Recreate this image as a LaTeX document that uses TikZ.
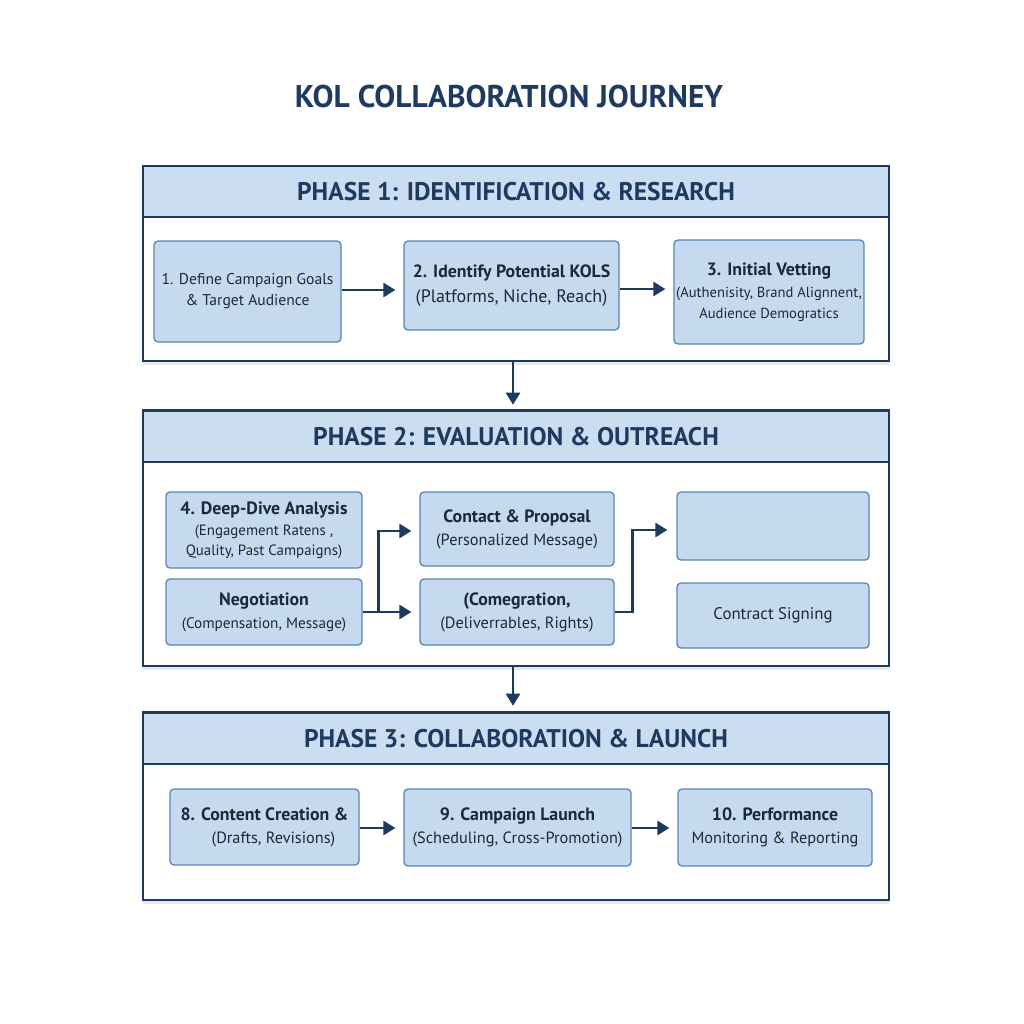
\documentclass[tikz,border=0pt]{standalone}
\usepackage{fontspec}
\setmainfont{PT Sans}
\usetikzlibrary{arrows.meta,shadows}
\definecolor{navy}{HTML}{1E3A5F}
\definecolor{hdrfill}{HTML}{CADDF1}
\definecolor{boxfill}{HTML}{C6DAEF}
\definecolor{boxline}{HTML}{5A85B5}
\definecolor{txt}{HTML}{1B2838}
\tikzset{
  frame/.style={draw=navy, line width=2.6pt, fill=white, minimum width=746pt, drop shadow={opacity=0.18, shadow xshift=0pt, shadow yshift=-4pt}, inner sep=0pt},
  hdr/.style={draw=navy, line width=2.6pt, fill=hdrfill, minimum width=746pt, minimum height=51pt, inner sep=0pt, text=navy, font=\fontsize{25.5}{30}\selectfont\bfseries},
  kbox/.style={draw=boxline, fill=boxfill, line width=1.3pt, rounded corners=4pt, align=center, inner sep=0pt, text=txt, font=\fontsize{16.3}{23}\selectfont},
  flow/.style={draw=navy, line width=2.8pt, -{Triangle[length=12pt,width=14pt]}}
}
\newcommand{\bt}[1]{{\fontsize{17.8}{23}\selectfont\bfseries #1}}
\newcommand{\sz}[2]{{\fontsize{#1}{20}\selectfont #2}}
\begin{document}
\begin{tikzpicture}[x=1pt,y=-1pt]
\useasboundingbox (0,0) rectangle (1024,1024);
\fill[white] (0,0) rectangle (1024,1024);
\node[text=navy, font=\fontsize{31.4}{36}\selectfont\bfseries] (title) at (509,97) {KOL COLLABORATION JOURNEY};

% Phase 1
\node[frame, minimum height=195pt] (p1) at (516,263.5) {};
\node[hdr] (h1) at (516,191.5) {PHASE 1: IDENTIFICATION \& RESEARCH};
\node[kbox, minimum width=187pt, minimum height=101pt, font=\fontsize{15.6}{21}\selectfont] (b1) at (247.5,291.5) {1. Define Campaign Goals\\ \& Target Audience};
\node[kbox, minimum width=215pt, minimum height=89pt, font=\fontsize{18}{25}\selectfont] (b2) at (511.5,285.5) {\bt{2. Identify Potential KOLS}\\(Platforms, Niche, Reach)};
\node[kbox, minimum width=190pt, minimum height=104pt] (b3) at (769,292) {\bt{3. Initial Vetting}\\[-1pt]\sz{14.6}{(Authenisity, Brand Alignnent,}\\[-2pt]\sz{14.6}{Audience Demogratics}};
\draw[flow, shorten >=8pt] (b1.east |- 0,290) -- (b2.west |- 0,290);
\draw[flow, shorten >=8pt] (b2.east |- 0,289) -- (b3.west |- 0,289);

% Phase 2
\node[frame, minimum height=256pt] (p2) at (516,538) {};
\node[hdr] (h2) at (516,436.5) {PHASE 2: EVALUATION \& OUTREACH};
\node[kbox, minimum width=196pt, minimum height=76pt] (b4) at (264,530) {\bt{4. Deep-Dive Analysis}\\[-2pt]\sz{14.9}{(Engagement Ratens ,}\\[-3pt]\sz{14.9}{Quality, Past Campaigns)}};
\node[kbox, minimum width=196pt, minimum height=66pt] (b5) at (264,612) {\bt{Negotiation}\\\sz{15.2}{(Compensation, Message)}};
\node[kbox, minimum width=194pt, minimum height=74pt] (b6) at (517,529) {\bt{Contact \& Proposal}\\(Personalized Message)};
\node[kbox, minimum width=194pt, minimum height=66pt] (b7) at (517,612) {\bt{(Comegration,}\\(Deliverrables, Rights)};
\node[kbox, minimum width=192pt, minimum height=68pt] (b8) at (773,526) {};
\node[kbox, minimum width=192pt, minimum height=65pt, font=\fontsize{16.8}{22}\selectfont] (b9) at (773,615.5) {Contract Signing};
\draw[flow, shorten >=8pt] (b5.east) -- ++(16,0) |- (b6.west |- 0,531);
\draw[flow, shorten >=8pt] (b5.east) -- (b7.west);
\draw[flow, shorten >=9pt] (b7.east) -- ++(18,0) |- (b8.west |- 0,530);

% Phase 3
\node[frame, minimum height=188pt] (p3) at (516,806) {};
\node[hdr] (h3) at (516,738.5) {PHASE 3: COLLABORATION \& LAUNCH};
\node[kbox, minimum width=189pt, minimum height=76pt] (b10) at (264.5,827) {\bt{8. Content Creation \&}\\\hspace*{18pt}(Drafts, Revisions)};
\node[kbox, minimum width=227pt, minimum height=77pt] (b11) at (517.5,827.5) {\bt{9. Campaign Launch}\\(Scheduling, Cross-Promotion)};
\node[kbox, minimum width=194pt, minimum height=77pt] (b12) at (775,827.5) {\bt{10. Performance}\\Monitoring \& Reporting};
\draw[flow, shorten >=8pt] (b10.east |- 0,828) -- (b11.west |- 0,828);
\draw[flow, shorten >=8pt] (b11.east |- 0,828) -- (b12.west |- 0,828);

% Phase links
\draw[flow, shorten >=4pt] (p1.south -| 513,0) -- (p2.north -| 513,0);
\draw[flow, shorten >=5pt] (p2.south -| 513,0) -- (p3.north -| 513,0);
\end{tikzpicture}
\end{document}
